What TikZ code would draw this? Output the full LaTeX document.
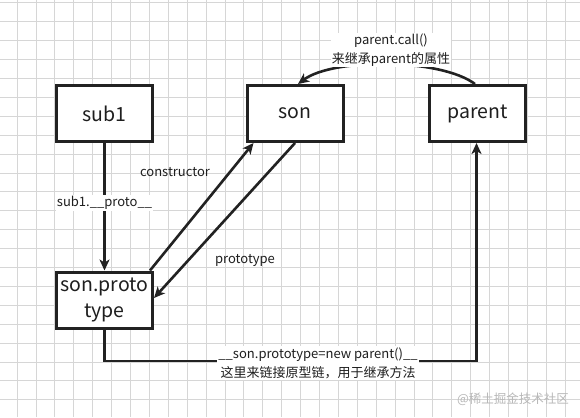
\documentclass[tikz,border=0pt]{standalone}
\usepackage{fontspec}
\setmainfont{Noto Sans CJK SC}
\usetikzlibrary{arrows.meta}
\definecolor{ink}{HTML}{222222}
\definecolor{txt}{HTML}{1E1E1E}
\definecolor{gridc}{HTML}{D6D6D6}
\begin{document}
\begin{tikzpicture}[x=1pt,y=-1pt,
  box/.style={draw=ink, line width=3pt, fill=white, minimum width=96pt, minimum height=56pt,
    inner sep=0pt, font=\fontsize{19.5}{26}\selectfont, text=txt, align=center},
  conn/.style={draw=ink, line width=2.6pt, -{Stealth[length=11pt,width=10pt,inset=3pt]}},
  lbl/.style={font=\fontsize{13}{19}\selectfont, text=txt, inner sep=1pt, align=center},
  lblbg/.style={lbl, fill=white}]
\useasboundingbox (0,0) rectangle (580,417);
\fill[white] (0,0) rectangle (580,417);
% grid
\foreach \i in {0,...,29} { \draw[gridc, line width=0.7pt] ({17+18.9*\i},0) -- ({17+18.9*\i},417); }
\foreach \j in {0,...,21} { \draw[gridc, line width=0.7pt] (0,{2.8+18.9*\j}) -- (580,{2.8+18.9*\j}); }
% boxes
\node[box] (sub1) at (104.5,113.5) {\raisebox{-1.5pt}{sub1}};
\node[box] (son) at (295,113.5) {\raisebox{-1.5pt}{son}};
\node[box] (parent) at (477.5,113.5) {\raisebox{-1.5pt}{parent}};
\node[box] (sp) at (104.5,300) {son.proto\\type};
% connectors
\draw[conn] (sub1) -- node[lblbg, pos=0.47] (lproto) {sub1.\_\_proto\_\_} (sp);
\draw[conn] ([xshift=-4pt]sp.north east) -- ([xshift=8pt]son.south west);
\node[lbl] (lcons) at (175,172) {constructor};
\draw[conn] (son.south) -- ([yshift=2pt]sp.east);
\node[lbl] (lproto2) at (245,260) {prototype};
\draw[conn] ([xshift=-2.5pt]parent.north) .. controls (440,58) and (333,58) .. ([xshift=3pt]son.north);
\node[lblbg] (lcall) at (391,50) {parent.call()\\来继承parent的属性};
\coordinate (c1) at (104.5,361);
\coordinate (c2) at (476.5,361);
\draw[conn] (sp.south) -- (c1) -- (c2) -- (c2 |- parent.south);
\node[lblbg] (lnew) at (318,363) {\_\_son.prototype=new parent()\_\_\\这里来链接原型链，用于继承方法};
\node[font=\fontsize{12.5}{14}\selectfont, text=black!28, inner sep=0pt] (wm) at (513,399) {@稀土掘金技术社区};
\end{tikzpicture}
\end{document}
